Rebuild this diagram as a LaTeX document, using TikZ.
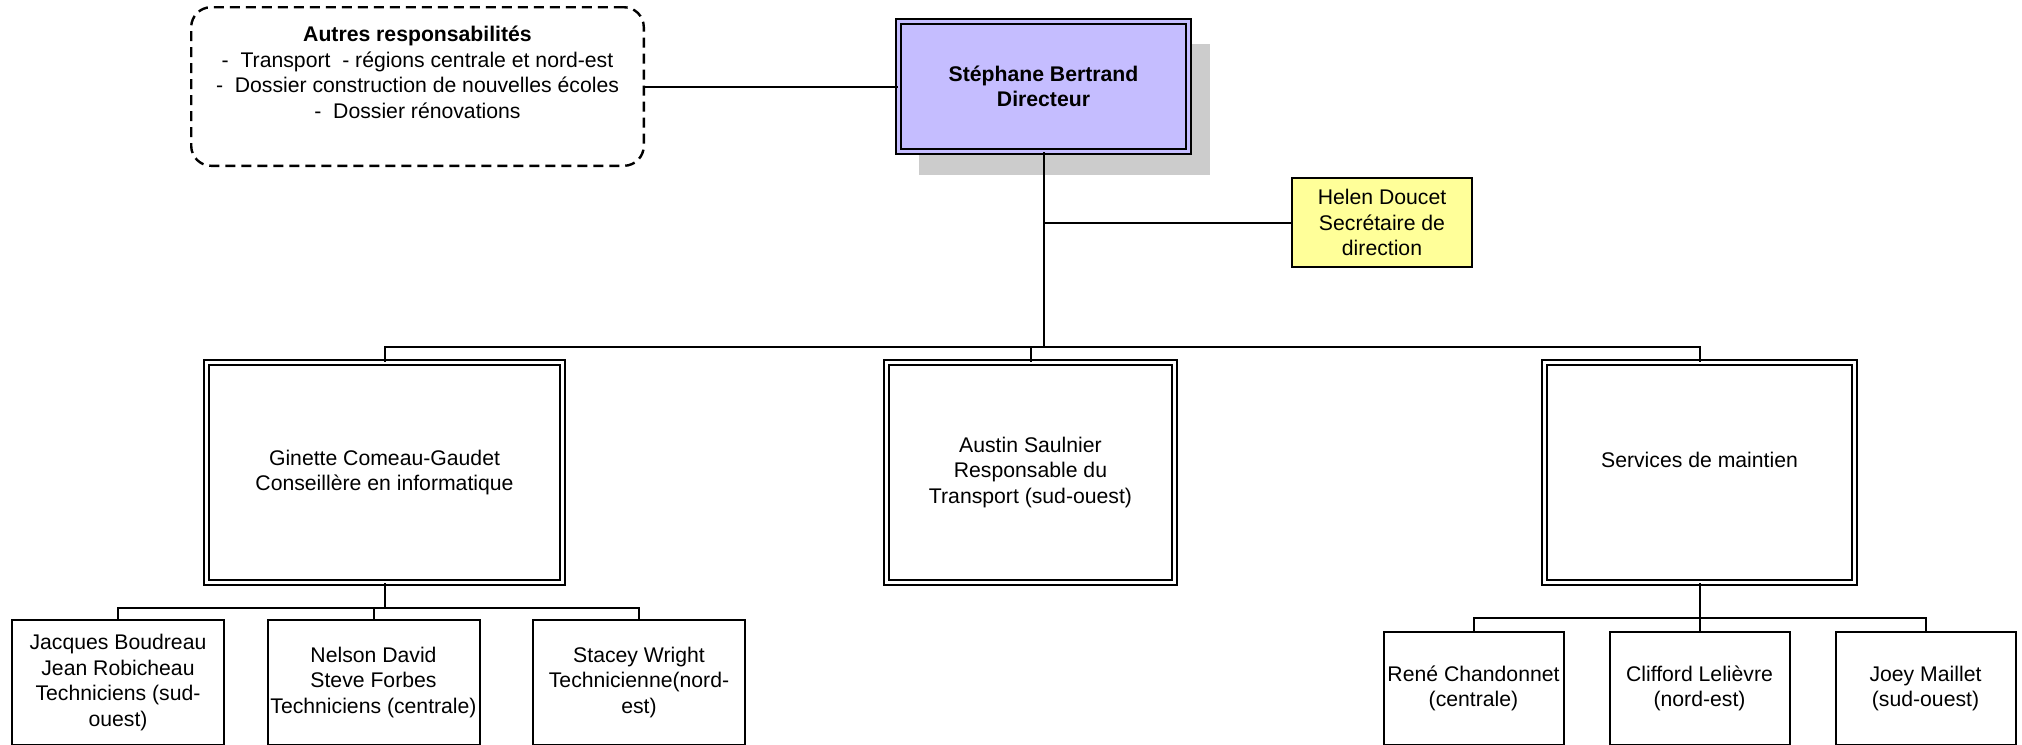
\documentclass[tikz,border=0pt]{standalone}
\usepackage{fontspec}
\setmainfont{Liberation Sans}
\usepackage{tikz}
\usetikzlibrary{positioning, shadows}
\definecolor{dirpurple}{RGB}{197, 189, 255}
\definecolor{secyellow}{RGB}{255, 255, 153}
\definecolor{shadowgray}{RGB}{204, 204, 204}

\begin{document}
\begin{tikzpicture}[x=0.5pt, y=-0.5pt,
    every node/.style={font=\fontsize{10.6}{12.8}\selectfont, align=center, inner sep=0.5pt},
    conn/.style={black, line width=1pt},
    dblbox/.style={draw=black, line width=0.8pt, double=white, double distance=1.8pt, minimum height=110.1pt},
    dirbox/.style={dblbox, fill=dirpurple, double=dirpurple, minimum width=145.1pt, minimum height=65.1pt,
        font=\fontsize{10.6}{12.8}\selectfont\bfseries,
        drop shadow={shadow xshift=10.5pt, shadow yshift=-11.5pt, fill=shadowgray, opacity=1}},
    notebox/.style={draw=black, line width=1.2pt, dash pattern=on 5pt off 3pt, rounded corners=10pt, minimum width=226.3pt, minimum height=79.3pt},
    secbox/.style={draw=black, line width=1pt, fill=secyellow, minimum width=90pt, minimum height=44.5pt},
    techbox/.style={draw=black, line width=1pt, minimum width=106pt, minimum height=62.5pt},
    maintbox/.style={draw=black, line width=1pt, minimum width=90pt, minimum height=56.5pt}]
    \useasboundingbox (0,0) rectangle (2022,744);
    \clip (0,0) rectangle (2022,744);

    \node[notebox] (autres) at (417.5, 86.5) {};
    \node (autrestxt) at (417.5, 72.5) {\textbf{Autres responsabilités}\\
        -~ Transport~ - régions centrale et nord-est\\
        -~ Dossier construction de nouvelles écoles\\
        -~ Dossier rénovations};
    \node[dirbox] (director) at (1043.5, 86.5) {Stéphane Bertrand\\Directeur};
    \node[secbox] (helen) at (1382, 222.5) {Helen Doucet\\Secrétaire de\\direction};

    \node[dblbox, minimum width=178.1pt] (ginette) at (384.5, 472.5) {Ginette Comeau-Gaudet\\Conseillère en informatique};
    \node[dblbox, minimum width=144.1pt] (austin) at (1030.5, 472.5) {Austin Saulnier\\Responsable du\\Transport (sud-ouest)};
    \node[dblbox, minimum width=155.1pt] (services) at (1699.5, 472.5) {Services de maintien\\~};

    \node[techbox] (jacques) at (118, 682.5) {Jacques Boudreau\\Jean Robicheau\\Techniciens (sud-\\ouest)};
    \node[techbox] (nelson) at (373.5, 682.5) {Nelson David\\Steve Forbes\\Techniciens (centrale)};
    \node[techbox] (stacey) at (639, 682.5) {Stacey Wright\\Technicienne(nord-\\est)};

    \node[maintbox] (clifford) at (1699.5, 688.5) {Clifford Lelièvre\\(nord-est)};
    \node[maintbox, left=22pt of clifford] (rene) {René Chandonnet\\(centrale)};
    \node[maintbox, right=22pt of clifford] (joey) {Joey Maillet\\(sud-ouest)};

    \coordinate (bus) at (0, 347);
    \coordinate (subleft) at (0, 608);
    \coordinate (subright) at (0, 618);

    \draw[conn] (autres) -- (director);
    \draw[conn] (director.south) -- (director.south |- bus);
    \draw[conn] (helen.west) -- (helen.west -| director.south);
    \draw[conn] (ginette.north) |- (services.north |- bus) -- (services.north);
    \draw[conn] (austin.north) -- (austin.north |- bus);

    \draw[conn] (ginette.south) -- (ginette.south |- subleft);
    \draw[conn] (jacques.north) |- (stacey.north |- subleft) -- (stacey.north);
    \draw[conn] (nelson.north) -- (nelson.north |- subleft);

    \draw[conn] (services.south) -- (clifford.north);
    \draw[conn] (rene.north) |- (joey.north |- subright) -- (joey.north);
\end{tikzpicture}
\end{document}
